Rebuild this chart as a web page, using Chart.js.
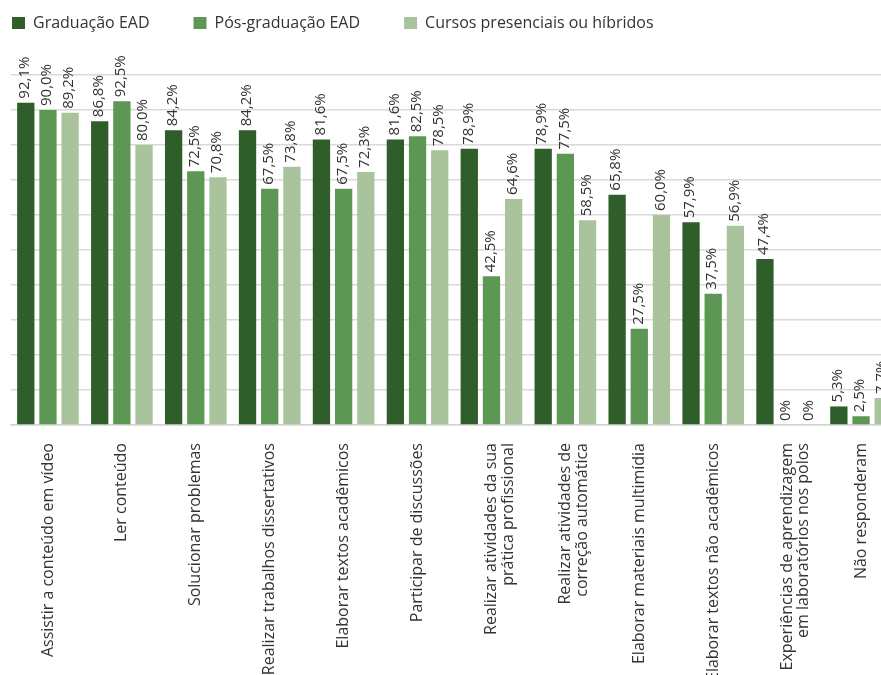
<!DOCTYPE html>
<html>
<head>
<meta charset="utf-8">
<script src="https://cdn.jsdelivr.net/npm/chart.js@4"></script>
<style>
  html, body { margin: 0; padding: 0; background: #fff; overflow: hidden; }
  #wrap { width: 905px; height: 675px; }
</style>
</head>
<body>
<div id="wrap"><canvas id="barChart"></canvas></div>
<script>
var categories = [
    'Assistir a conteúdo em vídeo',
    'Ler conteúdo',
    'Solucionar problemas',
    'Realizar trabalhos dissertativos',
    'Elaborar textos acadêmicos',
    'Participar de discussões',
    ['Realizar atividades da sua', 'prática profissional'],
    ['Realizar atividades de', 'correção automática'],
    'Elaborar materiais multimídia',
    'Elaborar textos não acadêmicos',
    ['Experiências de aprendizagem', 'em laboratórios nos polos'],
    'Não responderam'
];
var seriesNames = ['Graduação EAD', 'Pós-graduação EAD', 'Cursos presenciais ou híbridos'];
var graduacaoEad = [92.1, 86.8, 84.2, 84.2, 81.6, 81.6, 78.9, 78.9, 65.8, 57.9, 47.4, 5.3];
var posGraduacaoEad = [90.0, 92.5, 72.5, 67.5, 67.5, 82.5, 42.5, 77.5, 27.5, 37.5, 0, 2.5];
var presenciaisHibridos = [89.2, 80.0, 70.8, 73.8, 72.3, 78.5, 64.6, 58.5, 60.0, 56.9, 0, 7.7];
var colors = ['#2f5e2b', '#5c9853', '#a9c39c'];

var FONT = '"Open Sans", "Noto Sans", sans-serif';
var TEXT = '#333333';

function fmt(v) {
    if (v === 0) return '0%';
    return v.toFixed(1).replace('.', ',') + '%';
}

// rotated value labels above each bar
var valueLabels = {
    id: 'valueLabels',
    afterDatasetsDraw: function(chart) {
        var ctx = chart.ctx;
        ctx.save();
        ctx.font = '15px ' + FONT;
        ctx.fillStyle = TEXT;
        ctx.textAlign = 'left';
        ctx.textBaseline = 'middle';
        chart.data.datasets.forEach(function(ds, i) {
            chart.getDatasetMeta(i).data.forEach(function(bar, j) {
                ctx.save();
                ctx.translate(bar.x - 1, bar.y - 4);
                ctx.rotate(-Math.PI / 2);
                ctx.fillText(fmt(ds.data[j]), 0, 0);
                ctx.restore();
            });
        });
        ctx.restore();
    }
};

// fixed legend block height so the plot starts where the reference does
var legendHeight = {
    id: 'legendHeight',
    beforeInit: function(chart) {
        var fit = chart.legend.fit;
        chart.legend.fit = function() {
            fit.call(this);
            this.height = 72;
        };
    }
};

var ctx = document.getElementById('barChart').getContext('2d');
var chart = new Chart(ctx, {
    type: 'bar',
    data: {
        labels: categories,
        datasets: [
            { label: seriesNames[0], data: graduacaoEad, backgroundColor: colors[0] },
            { label: seriesNames[1], data: posGraduacaoEad, backgroundColor: colors[1] },
            { label: seriesNames[2], data: presenciaisHibridos, backgroundColor: colors[2] }
        ]
    },
    options: {
        responsive: true,
        maintainAspectRatio: false,
        animation: false,
        datasets: {
            bar: { categoryPercentage: 0.9, barPercentage: 0.78 }
        },
        layout: { padding: { top: 3, right: 7, left: 0, bottom: 0 } },
        plugins: {
            legend: {
                position: 'top',
                align: 'start',
                labels: {
                    boxWidth: 13,
                    boxHeight: 12,
                    padding: 12,
                    color: TEXT,
                    font: { family: FONT, size: 16 },
                    generateLabels: function(chart) {
                        var items = Chart.defaults.plugins.legend.labels.generateLabels(chart);
                        items.forEach(function(it) {
                            it.text = it.text + '\u2003\u2003';
                            it.lineWidth = 0;
                        });
                        return items;
                    }
                }
            },
            tooltip: { enabled: false }
        },
        scales: {
            x: {
                grid: { display: false },
                border: { display: true, color: '#d4d4d4', width: 1.5 },
                ticks: {
                    color: TEXT,
                    font: { family: FONT, size: 16, lineHeight: 1.05 },
                    minRotation: 90,
                    maxRotation: 90,
                    autoSkip: false,
                    padding: 10
                },
                afterFit: function(scale) { scale.height = 250; }
            },
            y: {
                min: 0,
                max: 100,
                ticks: { display: false, stepSize: 10 },
                grid: { color: '#d9d9d9', lineWidth: 1.5, drawTicks: false },
                border: { display: false },
                afterFit: function(scale) { scale.width = 11; }
            }
        }
    },
    plugins: [legendHeight, valueLabels]
});
</script>
</body>
</html>
